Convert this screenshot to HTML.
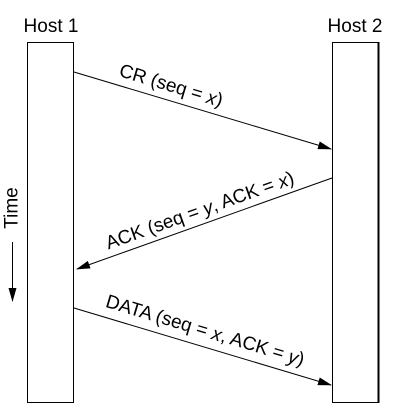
<!DOCTYPE html>
<html><head><meta charset="utf-8"><style>
html,body{margin:0;padding:0;background:#fff;}
svg{display:block;font-family:"Liberation Sans",Arial,sans-serif;}
</style></head><body>
<svg width="405" height="412" viewBox="0 0 405 412">
<defs><marker id="ah" markerWidth="14" markerHeight="8" refX="13" refY="4" orient="auto" markerUnits="userSpaceOnUse"><path d="M0,0 L14,4 L0,8 Z" fill="#000"/></marker></defs>
<text x="51" y="32" font-size="19" text-anchor="middle">Host 1</text>
<text x="355" y="32" font-size="19" text-anchor="middle">Host 2</text>
<rect x="27.5" y="42.5" width="46" height="360" fill="none" stroke="#000" stroke-width="1"/>
<rect x="332.5" y="42.5" width="46" height="360" fill="none" stroke="#000" stroke-width="1"/>
<line x1="378.5" y1="42" x2="378.5" y2="403" stroke="#000" stroke-width="2"/>
<line x1="74" y1="72" x2="331" y2="149" stroke="#000" stroke-width="1" marker-end="url(#ah)"/>
<line x1="332" y1="178" x2="77" y2="269" stroke="#000" stroke-width="1" marker-end="url(#ah)"/>
<line x1="74" y1="308" x2="331" y2="385" stroke="#000" stroke-width="1" marker-end="url(#ah)"/>
<text transform="translate(171,86) rotate(16.7)" font-size="19" text-anchor="middle" dominant-baseline="central">CR (seq = <tspan font-style="italic">x</tspan>)</text>
<text transform="translate(200,211) rotate(-19.6)" font-size="19" text-anchor="middle" dominant-baseline="central">ACK (seq = <tspan font-style="italic">y</tspan>, ACK = <tspan font-style="italic">x</tspan>)</text>
<text transform="translate(205,331) rotate(16.7)" font-size="19" text-anchor="middle" dominant-baseline="central">DATA (seq = <tspan font-style="italic">x</tspan>, ACK = <tspan font-style="italic">y</tspan>)</text>
<text transform="translate(12,208) rotate(-90)" font-size="19" text-anchor="middle" dominant-baseline="central">Time</text>
<line x1="12.5" y1="242" x2="12.5" y2="301" stroke="#000" stroke-width="1" marker-end="url(#ah)"/>
</svg>
</body></html>
